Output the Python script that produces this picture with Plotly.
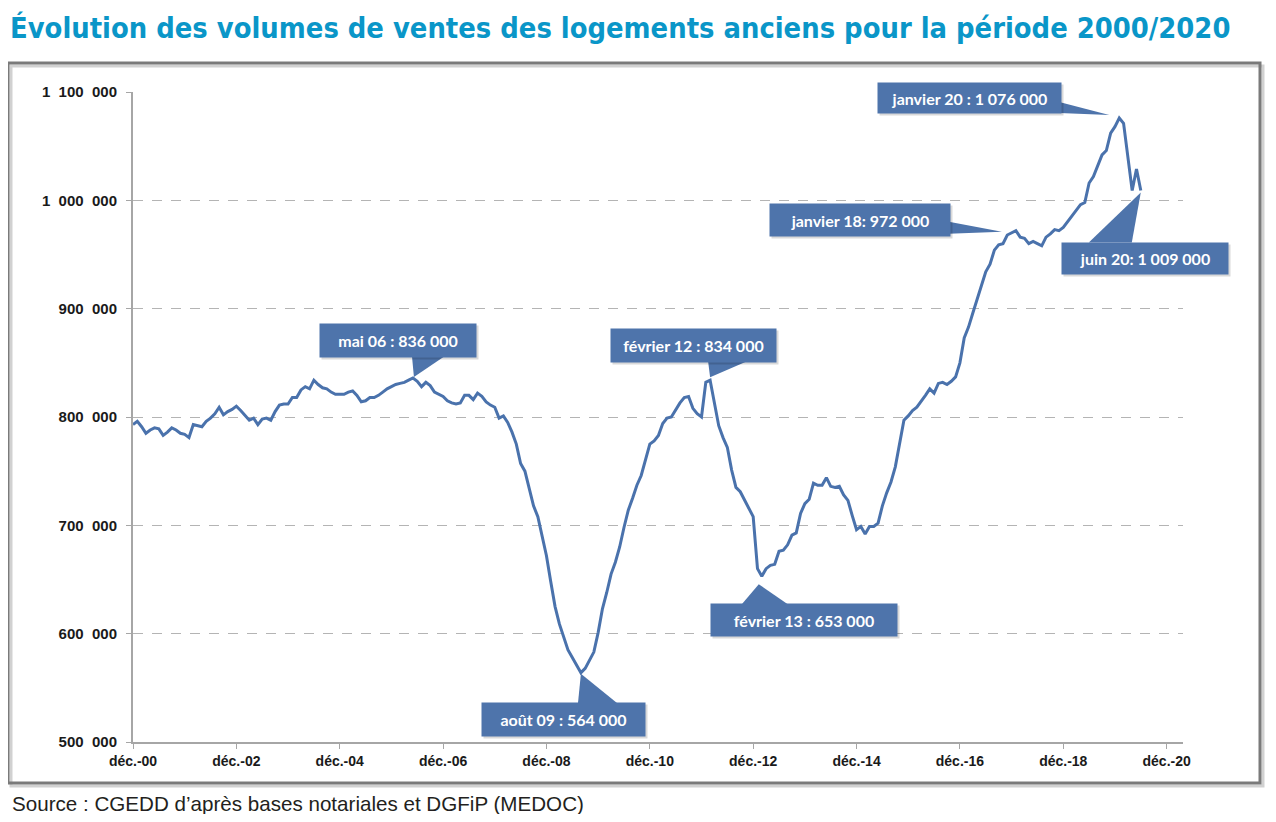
import plotly.graph_objects as go

# ---------------- data ----------------
start_year, start_month = 2000, 12  # first point: déc. 2000, monthly series

# sales volumes over 12 rolling months, thousands, déc. 2000 -> juin 2020
volumes_k = [
    793, 796, 791, 785, 788, 790, 789, 783, 786, 790, 788, 785,
    784, 781, 793, 792, 791, 796, 799, 803, 809, 802, 805, 807,
    810, 806, 801, 797, 799, 793, 798, 799, 797, 805, 811, 812,
    812, 818, 818, 825, 828, 826, 834, 830, 827, 826, 823, 821,
    821, 821, 823, 824, 820, 814, 815, 818, 818, 820, 823, 826,
    828, 830, 831, 832, 834, 836, 833, 828, 832, 829, 823, 821,
    819, 815, 813, 812, 813, 820, 820, 816, 822, 819, 814, 811,
    809, 799, 801, 795, 786, 775, 757, 750, 733, 718, 708, 690,
    672, 648, 625, 609, 598, 585, 578, 571, 564, 568, 576, 583,
    601, 623, 638, 655, 666, 680, 698, 714, 725, 737, 746, 761,
    775, 778, 783, 794, 799, 800, 807, 813, 818, 819, 808, 803,
    800, 832, 834, 812, 792, 781, 772, 751, 735, 731, 723, 716,
    708, 660, 653, 660, 663, 664, 676, 677, 682, 691, 693, 711,
    720, 724, 739, 737, 737, 744, 736, 735, 736, 728, 723, 709,
    696, 699, 692, 699, 699, 702, 718, 730, 740, 754, 774, 797,
    801, 806, 809, 814, 820, 826, 822, 831, 832, 830, 833, 837,
    850, 873, 883, 896, 909, 922, 934, 941, 954, 959, 960, 968,
    970, 972, 966, 965, 960, 962, 960, 958, 966, 969, 973, 972,
    975, 980, 985, 990, 996, 998, 1016, 1022, 1032, 1042, 1046, 1062,
    1068, 1076, 1071, 1040, 1009, 1029, 1009,
]
volumes = [v * 1000 for v in volumes_k]
month_index = list(range(len(volumes)))

x_tick_labels = ["déc.-00", "déc.-02", "déc.-04", "déc.-06", "déc.-08", "déc.-10",
                 "déc.-12", "déc.-14", "déc.-16", "déc.-18", "déc.-20"]
x_tick_step_months = 24
y_tick_values = [500000, 600000, 700000, 800000, 900000, 1000000, 1100000]

callout_texts = ["mai 06 : 836 000", "août 09 : 564 000", "février 12 : 834 000",
                 "février 13 : 653 000", "janvier 18: 972 000", "janvier 20 : 1 076 000",
                 "juin 20: 1 009 000"]
callout_dates = [(2006, 5), (2009, 8), (2012, 2), (2013, 2), (2018, 1), (2020, 1), (2020, 6)]

title_text = "Évolution des volumes de ventes des logements anciens pour la période 2000/2020"
source_text = "Source : CGEDD d’après bases notariales et DGFiP (MEDOC)"

# ---------------- styles / layout geometry ----------------
OFF = 8                                   # page body margin of the browser
W, H = 1276 - 2 * OFF, 822 - 2 * OFF
PL, PT = 133 - OFF, 92 - OFF              # plot area: x 133..1183, y 92..742 in page px
PR, PB = W - (1183 - OFF), H - (742 - OFF)
X_MAX = 243.8                             # right end of x axis (months)
LINE_BLUE = "#4a72ac"
BOX_BLUE = "#4e74ab"
TITLE_BLUE = "#0a96c8"

# per callout: box centre offset (px, y up), box size, wedge polygon (px, y up, relative to point)
callout_geom = [
    dict(c=(-15, 38), size=(156, 33), wedge=[(-1, 22), (32, 22), (1, 1)]),
    dict(c=(-17, -47), size=(163, 33), wedge=[(-3, -31), (37, -31), (0, -1)]),
    dict(c=(-17, 35), size=(165, 33), wedge=[(-2, 19), (37, 19), (0, 3)]),
    dict(c=(42, -44), size=(186, 32), wedge=[(-20, -28), (26, -28), (-3, -8)]),
    dict(c=(-156, 11), size=(180, 32), wedge=[(-67, 9), (-67, -3), (-14, -1)]),
    dict(c=(-150, 20), size=(183, 30), wedge=[(-60, 16), (-60, 5), (-10, 3)]),
    dict(c=(4, -68), size=(166, 31), wedge=[(-52, -52), (-9, -52), (0, -2)]),
]

def month_of(year, month):
    return (year - start_year) * 12 + (month - start_month)

def fmt_thousands(v):
    return f"{v:,}".replace(",", "\u2007")

pw, ph = W - PL - PR, H - PT - PB
def px_to_paper(x, y):
    """page pixel (reference coordinates) -> paper fraction"""
    return (x - OFF - PL) / pw, (H - PB - (y - OFF)) / ph

fig = go.Figure()
fig.add_trace(go.Scatter(
    x=month_index, y=volumes, mode="lines",
    line=dict(color=LINE_BLUE, width=3),
    hoverinfo="skip", showlegend=False,
))

shapes = []
annotations = []

# outer frame with a soft shadow
sx0, sy0 = px_to_paper(11, 786)
sx1, sy1 = px_to_paper(1263, 66)
fx0, fy0 = px_to_paper(8, 783)
fx1, fy1 = px_to_paper(1260, 63)
shapes.append(dict(type="rect", xref="paper", yref="paper", x0=sx0, y0=sy0, x1=sx1, y1=sy1,
                   line=dict(color="rgba(0,0,0,0.18)", width=3), layer="below"))
shapes.append(dict(type="rect", xref="paper", yref="paper", x0=fx0, y0=fy0, x1=fx1, y1=fy1,
                   line=dict(color="#7a7a7a", width=3), layer="below"))

for text, (yy, mm), g in zip(callout_texts, callout_dates, callout_geom):
    idx = month_of(yy, mm)
    val = volumes[idx]
    path = "M" + " L".join(f"{px},{py}" for px, py in g["wedge"]) + " Z"
    shapes.append(dict(type="path", xref="x", yref="y", xsizemode="pixel", ysizemode="pixel",
                       xanchor=idx, yanchor=val, path=path, fillcolor=BOX_BLUE,
                       line=dict(width=0), layer="above"))
    cx, cy = g["c"]
    bw, bh = g["size"]
    annotations.append(dict(x=idx, y=val, xref="x", yref="y", showarrow=False,
                            xshift=cx + 2, yshift=cy - 2, xanchor="center", yanchor="middle",
                            text=" ", width=bw, height=bh, borderpad=0,
                            bgcolor="rgba(0,0,0,0.15)", font=dict(size=15)))
    annotations.append(dict(x=idx, y=val, xref="x", yref="y", showarrow=False,
                            xshift=cx, yshift=cy, xanchor="center", yanchor="middle",
                            text=text, width=bw, height=bh, borderpad=0, align="center",
                            bgcolor=BOX_BLUE,
                            font=dict(family="Lato, Open Sans, sans-serif", size=16,
                                      color="white", weight="bold")))

src_x, src_y = px_to_paper(10, 803)
annotations.append(dict(xref="paper", yref="paper", x=src_x, y=src_y, xanchor="left",
                        yanchor="middle", showarrow=False, text=source_text,
                        font=dict(family="Liberation Sans, Arial, sans-serif", size=20.6,
                                  color="#231f20")))

fig.update_layout(
    width=W, height=H,
    margin=dict(l=PL, r=PR, t=PT, b=PB, autoexpand=False),
    paper_bgcolor="white", plot_bgcolor="white",
    title=dict(text=title_text, x=(10 - OFF) / W, xanchor="left",
               y=1 - (28 - OFF) / H, yanchor="middle",
               font=dict(family="Liberation Sans Narrow, DejaVu Sans Condensed, Liberation Sans, sans-serif",
                         size=28.8, color=TITLE_BLUE, weight="bold")),
    xaxis=dict(range=[0, X_MAX],
               tickvals=[i * x_tick_step_months for i in range(len(x_tick_labels))],
               ticktext=x_tick_labels, showgrid=False, zeroline=False,
               showline=True, linecolor="#a6a6a6", linewidth=2,
               ticks="outside", ticklen=5, tickcolor="#a6a6a6", tickwidth=1,
               tickfont=dict(family="Liberation Sans Narrow, Arial Narrow, sans-serif",
                             size=14, color="#1a1a1a", weight="bold")),
    yaxis=dict(range=[500000, 1100000], tickvals=y_tick_values,
               ticktext=[fmt_thousands(v) for v in y_tick_values],
               showgrid=True, gridcolor="#b4b4b4", gridwidth=1, griddash="10px,9px",
               zeroline=False, showline=True, linecolor="#a6a6a6", linewidth=2,
               ticks="outside", ticklen=5, tickcolor="#a6a6a6", tickwidth=1,
               ticklabelstandoff=6,
               tickfont=dict(family="Liberation Sans, Arial, sans-serif", size=15,
                             color="#1a1a1a", weight="bold")),
    shapes=shapes, annotations=annotations,
)

fig.write_html("out.html")
